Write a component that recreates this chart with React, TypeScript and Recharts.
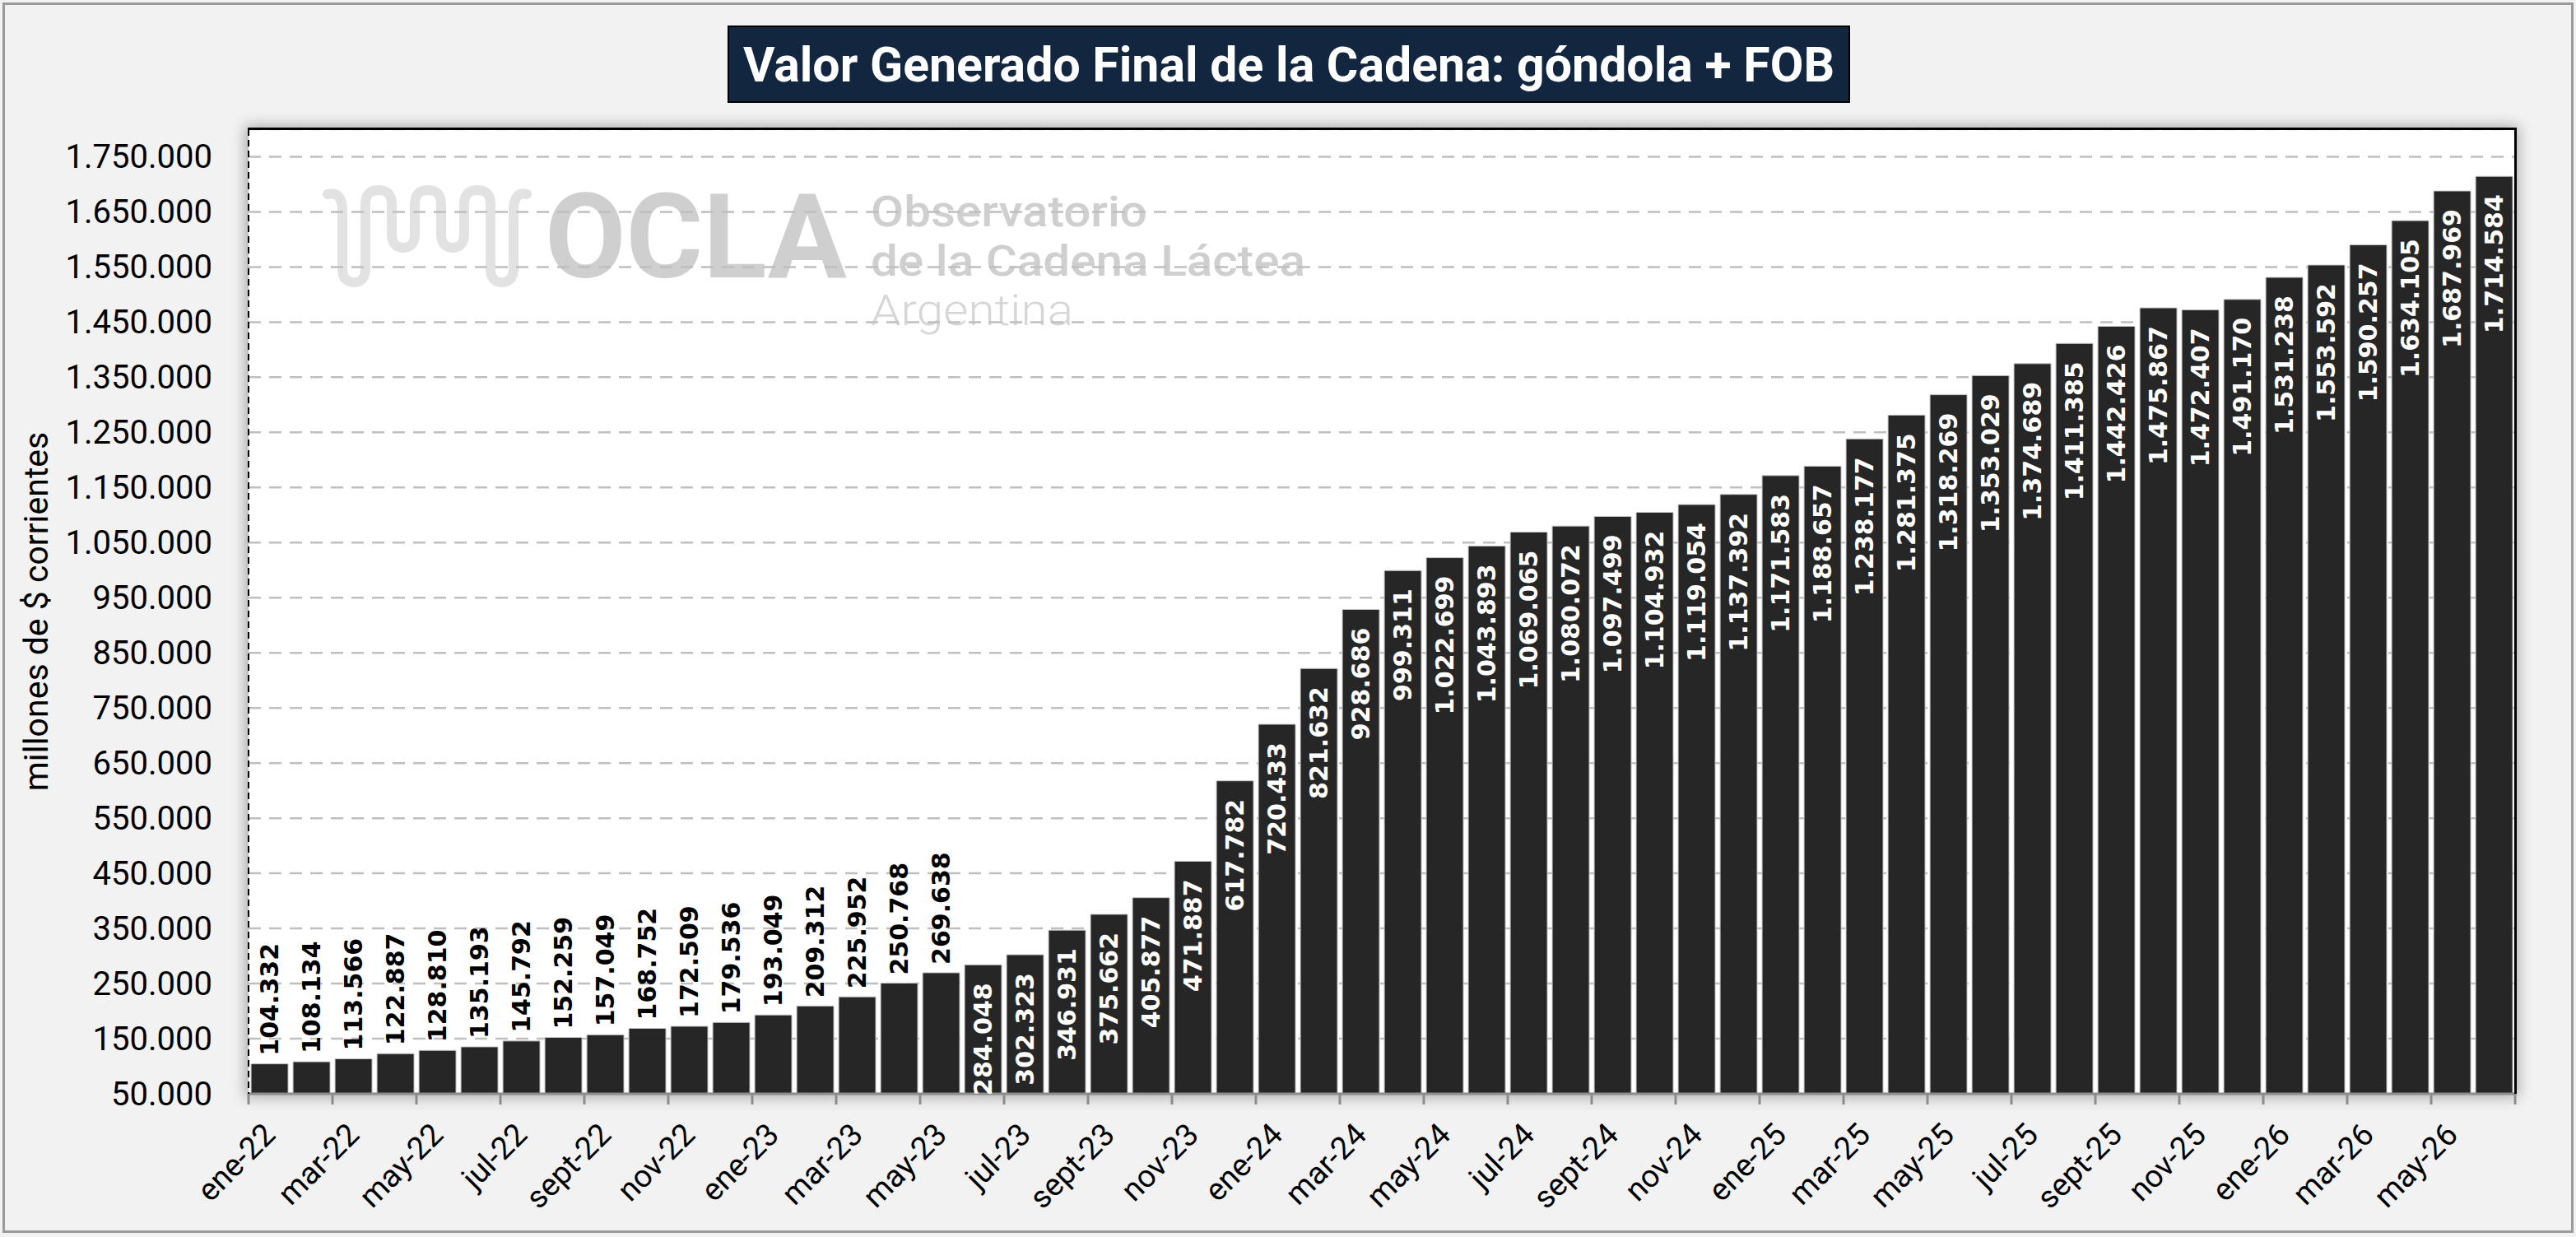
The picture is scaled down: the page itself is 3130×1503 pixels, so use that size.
import React from "react";
import { BarChart, Bar, XAxis, YAxis, CartesianGrid, LabelList } from "recharts";

const W = 3130;
const H = 1503;
// plot area box (page pixels)
const PLOT = { left: 302, top: 157, right: 3056, bottom: 1329 };

const categories = [
  "ene-22", "feb-22", "mar-22", "abr-22", "may-22", "jun-22", "jul-22", "ago-22", "sept-22", "oct-22", "nov-22", "dic-22",
  "ene-23", "feb-23", "mar-23", "abr-23", "may-23", "jun-23", "jul-23", "ago-23", "sept-23", "oct-23", "nov-23", "dic-23",
  "ene-24", "feb-24", "mar-24", "abr-24", "may-24", "jun-24", "jul-24", "ago-24", "sept-24", "oct-24", "nov-24", "dic-24",
  "ene-25", "feb-25", "mar-25", "abr-25", "may-25", "jun-25", "jul-25", "ago-25", "sept-25", "oct-25", "nov-25", "dic-25",
  "ene-26", "feb-26", "mar-26", "abr-26", "may-26", "jun-26",
];

const values = [
  104332, 108134, 113566, 122887, 128810, 135193, 145792, 152259, 157049, 168752, 172509, 179536,
  193049, 209312, 225952, 250768, 269638, 284048, 302323, 346931, 375662, 405877, 471887, 617782,
  720433, 821632, 928686, 999311, 1022699, 1043893, 1069065, 1080072, 1097499, 1104932, 1119054, 1137392,
  1171583, 1188657, 1238177, 1281375, 1318269, 1353029, 1374689, 1411385, 1442426, 1475867, 1472407, 1491170,
  1531238, 1553592, 1590257, 1634105, 1687969, 1714584,
];

const yTicks = [
  50000, 150000, 250000, 350000, 450000, 550000, 650000, 750000, 850000,
  950000, 1050000, 1150000, 1250000, 1350000, 1450000, 1550000, 1650000, 1750000,
];

const data = categories.map((mes, i) => ({ mes, valor: values[i] }));

const fmt = (v: number) => String(v).replace(/\B(?=(\d{3})+(?!\d))/g, ".");

const BAND = (PLOT.right - PLOT.left) / categories.length;

function XTick({ x, payload }: any) {
  const lx = x + 9;
  const ly = PLOT.bottom + 52;
  const isLast = payload.value === categories[categories.length - 2];
  return (
    <g>
      <line x1={x - BAND / 2} x2={x - BAND / 2} y1={PLOT.bottom} y2={PLOT.bottom + 13} stroke="#8c8c8c" strokeWidth={3} />
      {isLast && (
        <line x1={x + BAND * 1.5} x2={x + BAND * 1.5} y1={PLOT.bottom} y2={PLOT.bottom + 13} stroke="#8c8c8c" strokeWidth={3} />
      )}
      <text
        x={lx}
        y={ly}
        transform={`rotate(-45 ${lx} ${ly})`}
        textAnchor="end"
        fontFamily="Roboto"
        fontSize={38}
        fill="#000"
      >
        {payload.value}
      </text>
    </g>
  );
}

function YTick({ x, y, payload }: any) {
  return (
    <text x={x} y={y} textAnchor="end" dominantBaseline="central" fontFamily="Roboto" fontSize={40} fill="#000">
      {fmt(payload.value)}
    </text>
  );
}

function BarLabel({ x, y, width, value }: any) {
  const cx = Number(x) + Number(width) / 2;
  const inside = value >= 280000;
  const ty = inside ? Number(y) + 22 : Number(y) - 10;
  return (
    <text
      x={cx}
      y={ty}
      transform={`rotate(-90 ${cx} ${ty})`}
      textAnchor={inside ? "end" : "start"}
      dominantBaseline="central"
      fontFamily="DejaVu Sans, Verdana, sans-serif"
      fontWeight="bold"
      fontSize={30}
      fill={inside ? "#ffffff" : "#000000"}
    >
      {fmt(value)}
    </text>
  );
}

function Watermark() {
  // OCLA logo sits behind the bars, in light grey
  const wave =
    "M398 236 Q414 232 416 252 L416 326 Q416 343 430 343 Q444 343 444 326 L444 248 Q444 231 460 231 Q476 231 476 248 " +
    "L476 284 Q476 301 490 301 Q504 301 504 284 L504 248 Q504 231 520 231 Q536 231 536 248 L536 284 Q536 301 550 301 " +
    "Q564 301 564 284 L564 248 Q564 231 580 231 Q596 231 596 248 L596 326 Q596 343 610 343 Q624 343 624 326 L624 252 Q626 232 640 236";
  return (
    <svg width={W} height={H} style={{ position: "absolute", left: 0, top: 0 }}>
      <path d={wave} fill="none" stroke="#e2e2e2" strokeWidth={12} strokeLinecap="round" />
      <text x={662} y={337} fontFamily="Roboto" fontWeight={700} fontSize={143} fill="#cfcfcf">
        OCLA
      </text>
      <text x={1058} y={275} fontFamily="Roboto" fontWeight={500} fontSize={51} textLength={336} lengthAdjust="spacingAndGlyphs" fill="#cfcfcf">
        Observatorio
      </text>
      <text x={1058} y={335} fontFamily="Roboto" fontWeight={500} fontSize={51} textLength={528} lengthAdjust="spacingAndGlyphs" fill="#cfcfcf">
        de la Cadena Láctea
      </text>
      <text x={1058} y={395} fontFamily="Roboto" fontWeight={300} fontSize={51} textLength={246} lengthAdjust="spacingAndGlyphs" fill="#d6d6d6">
        Argentina
      </text>
    </svg>
  );
}

export default function App() {
  return (
    <div style={{ position: "absolute", left: 0, top: 0, width: W, height: H, background: "#f2f2f2", overflow: "hidden" }}>
      <div
        style={{
          position: "absolute",
          left: 3,
          top: 3,
          width: W - 6,
          height: H - 8,
          border: "3px solid #9a9a9a",
          boxSizing: "border-box",
        }}
      />
      <div
        style={{
          position: "absolute",
          left: PLOT.left,
          top: PLOT.top,
          width: PLOT.right - PLOT.left,
          height: PLOT.bottom - PLOT.top,
          background: "#ffffff",
          boxShadow: "0 0 16px 4px rgba(0,0,0,0.3)",
        }}
      />
      <Watermark />
      <div
        style={{
          position: "absolute",
          left: 884,
          top: 31,
          width: 1364,
          height: 94,
          background: "#12263f",
          border: "2px solid #000",
          boxSizing: "border-box",
          display: "flex",
          alignItems: "center",
          justifyContent: "center",
          color: "#fff",
          fontFamily: "Roboto",
          fontWeight: 700,
          fontSize: 59,
          whiteSpace: "nowrap",
        }}
      >
        Valor Generado Final de la Cadena: góndola + FOB
      </div>
      <svg width={W} height={H} style={{ position: "absolute", left: 0, top: 0 }}>
        <text
          x={44}
          y={(PLOT.top + PLOT.bottom) / 2}
          transform={`rotate(-90 44 ${(PLOT.top + PLOT.bottom) / 2})`}
          textAnchor="middle"
          dominantBaseline="central"
          fontFamily="Roboto"
          fontSize={41}
          fill="#000"
        >
          millones de $ corrientes
        </text>
      </svg>
      <div style={{ position: "absolute", left: 0, top: 0 }}>
        <BarChart
          width={W}
          height={H}
          data={data}
          margin={{ top: PLOT.top, right: W - PLOT.right, bottom: 0, left: 0 }}
          barCategoryGap="6%"
        >
          <CartesianGrid vertical={false} stroke="#bfbfbf" strokeDasharray="15 10" strokeWidth={2.5} />
          <XAxis
            dataKey="mes"
            interval={1}
            height={H - PLOT.bottom}
            tickLine={false}
            tickSize={0}
            axisLine={{ stroke: "#8c8c8c", strokeWidth: 3 }}
            tick={<XTick />}
          />
          <YAxis
            type="number"
            domain={[50000, 1800000]}
            ticks={yTicks}
            allowDataOverflow
            width={PLOT.left}
            tickLine={false}
            tickSize={0}
            tickMargin={44}
            axisLine={{ stroke: "#000", strokeWidth: 2, strokeDasharray: "8 5" }}
            tick={<YTick />}
          />
          <Bar dataKey="valor" fill="#262626" stroke="#c8c8c8" strokeWidth={1} isAnimationActive={false}>
            <LabelList dataKey="valor" content={<BarLabel />} />
          </Bar>
        </BarChart>
      </div>
      <div
        style={{
          position: "absolute",
          left: PLOT.left - 1,
          top: PLOT.top - 2,
          width: PLOT.right - PLOT.left + 3,
          height: 10,
          borderTop: "3px solid #000",
          boxSizing: "border-box",
          pointerEvents: "none",
        }}
      />
      <div
        style={{
          position: "absolute",
          left: PLOT.right - 1,
          top: PLOT.top - 2,
          width: 3,
          height: PLOT.bottom - PLOT.top + 2,
          background: "#000",
          pointerEvents: "none",
        }}
      />
    </div>
  );
}
